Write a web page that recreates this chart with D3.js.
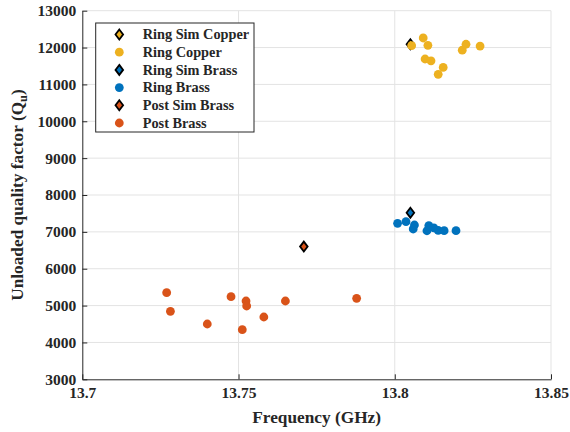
<!DOCTYPE html>
<html>
<head>
<meta charset="utf-8">
<script src="https://cdn.jsdelivr.net/npm/d3@7"></script>
<style>
  body { margin: 0; background: #fff; }
</style>
</head>
<body>
<div id="chart"></div>
<script>
const width = 570
const height = 432
const margin = {top: 10.7, right: 19, bottom: 52.7, left: 82.3}
const serif = "'Liberation Serif', 'Times New Roman', Tinos, 'DejaVu Serif', serif"

const xTicks = [13.7, 13.75, 13.8, 13.85]
const xTickLabels = ["13.7", "13.75", "13.8", "13.85"]
const yTicks = [3000, 4000, 5000, 6000, 7000, 8000, 9000, 10000, 11000, 12000, 13000]

// measured points
const ringSimCopper = [[13.805, 12090]]
const ringCopperFreq = [13.8054, 13.8091, 13.8106, 13.8097, 13.8116, 13.8155, 13.8139, 13.8216, 13.8228, 13.8273]
const ringCopperQ = [12050, 12260, 12060, 11690, 11640, 11460, 11275, 11930, 12090, 12040]
const ringSimBrass = [[13.805, 7520]]
const ringBrassFreq = [13.8009, 13.8036, 13.8063, 13.8059, 13.8109, 13.8103, 13.8125, 13.8139, 13.8158, 13.8196]
const ringBrassQ = [7232, 7276, 7186, 7078, 7170, 7030, 7110, 7040, 7031, 7031]
const postSimBrass = [[13.7709, 6600]]
const postBrassFreq = [13.727, 13.7282, 13.74, 13.7476, 13.7524, 13.7526, 13.7512, 13.7581, 13.765, 13.7878]
const postBrassQ = [5350, 4845, 4500, 5241, 5124, 4989, 4346, 4690, 5124, 5197]

const copper = "#EDB120", blue = "#0072BD", orange = "#D95319"

const zip = (a, b) => a.map((v, i) => [v, b[i]])

const series = [
  {name: "Ring Sim Copper", type: "diamond", color: copper, data: ringSimCopper},
  {name: "Ring Copper", type: "circle", color: copper, data: zip(ringCopperFreq, ringCopperQ)},
  {name: "Ring Sim Brass", type: "diamond", color: blue, data: ringSimBrass},
  {name: "Ring Brass", type: "circle", color: blue, data: zip(ringBrassFreq, ringBrassQ)},
  {name: "Post Sim Brass", type: "diamond", color: orange, data: postSimBrass},
  {name: "Post Brass", type: "circle", color: orange, data: zip(postBrassFreq, postBrassQ)}
]

const svg = d3.select("#chart").append("svg")
  .attr("width", width)
  .attr("height", height)
  .attr("font-family", serif)
  .attr("font-weight", "bold")

const x = d3.scaleLinear().domain([13.7, 13.85]).range([margin.left, width - margin.right])
const y = d3.scaleLinear().domain([3000, 13000]).range([height - margin.bottom, margin.top])

// grid
svg.append("g").selectAll("line")
  .data(xTicks.slice(1))
  .enter().append("line")
  .attr("x1", d => x(d)).attr("x2", d => x(d))
  .attr("y1", y(3000)).attr("y2", y(13000))
  .attr("stroke", "#e3e3e3").attr("stroke-width", 1)
svg.append("g").selectAll("line")
  .data(yTicks.slice(1))
  .enter().append("line")
  .attr("x1", x(13.7)).attr("x2", x(13.85))
  .attr("y1", d => y(d)).attr("y2", d => y(d))
  .attr("stroke", "#e3e3e3").attr("stroke-width", 1)

// axes
const xAxis = svg.append("g")
  .attr("transform", `translate(0,${y(3000)})`)
  .call(d3.axisBottom(x).tickValues(xTicks).tickFormat((d, i) => xTickLabels[i]).tickSizeInner(-5).tickSizeOuter(0).tickPadding(8))
const yAxis = svg.append("g")
  .attr("transform", `translate(${x(13.7)},0)`)
  .call(d3.axisLeft(y).tickValues(yTicks).tickFormat(d3.format("d")).tickSizeInner(-5).tickSizeOuter(0).tickPadding(6))
;[xAxis, yAxis].forEach(a => {
  a.attr("font-family", serif).attr("font-size", 15.5)
  a.select(".domain").attr("stroke", "#262626").attr("stroke-width", 1)
  a.selectAll(".tick line").attr("stroke", "#262626")
  a.selectAll("text").attr("fill", "#262626")
})

// marks
const diamondPath = "M0,-5L3.8,0L0,5L-3.8,0Z"
series.forEach(s => {
  const g = svg.append("g")
  if (s.type === "circle") {
    g.selectAll("circle").data(s.data).enter().append("circle")
      .attr("cx", d => x(d[0])).attr("cy", d => y(d[1])).attr("r", 4.4)
      .attr("fill", s.color)
  } else {
    g.selectAll("path").data(s.data).enter().append("path")
      .attr("d", diamondPath)
      .attr("transform", d => `translate(${x(d[0])},${y(d[1])})`)
      .attr("fill", s.color).attr("stroke", "#000").attr("stroke-width", 1.8)
  }
})

// legend
const legend = svg.append("g")
legend.append("rect")
  .attr("x", 95.7).attr("y", 23).attr("width", 158.3).attr("height", 109)
  .attr("fill", "#fff").attr("stroke", "#262626").attr("stroke-width", 1)
series.forEach((s, i) => {
  const ly = 34.5 + i * 17.7
  if (s.type === "circle") {
    legend.append("circle").attr("cx", 119.3).attr("cy", ly).attr("r", 4.4).attr("fill", s.color)
  } else {
    legend.append("path").attr("d", diamondPath)
      .attr("transform", `translate(119.3,${ly})`)
      .attr("fill", s.color).attr("stroke", "#000").attr("stroke-width", 1.8)
  }
  legend.append("text").attr("x", 142.7).attr("y", ly + 4.8)
    .attr("font-size", 14.3).attr("fill", "#262626").text(s.name)
})

// titles
svg.append("text")
  .attr("x", (x(13.7) + x(13.85)) / 2).attr("y", 423)
  .attr("text-anchor", "middle").attr("font-size", 17.3).attr("fill", "#262626")
  .text("Frequency (GHz)")
const yl = svg.append("text")
  .attr("transform", `translate(23,${(y(3000) + y(13000)) / 2}) rotate(-90)`)
  .attr("text-anchor", "middle").attr("font-size", 17.3).attr("fill", "#262626")
yl.append("tspan").text("Unloaded quality factor (Q")
yl.append("tspan").attr("font-size", 12.5).attr("dy", 4).text("u")
yl.append("tspan").attr("dy", -4).text(")")
</script>
</body>
</html>
